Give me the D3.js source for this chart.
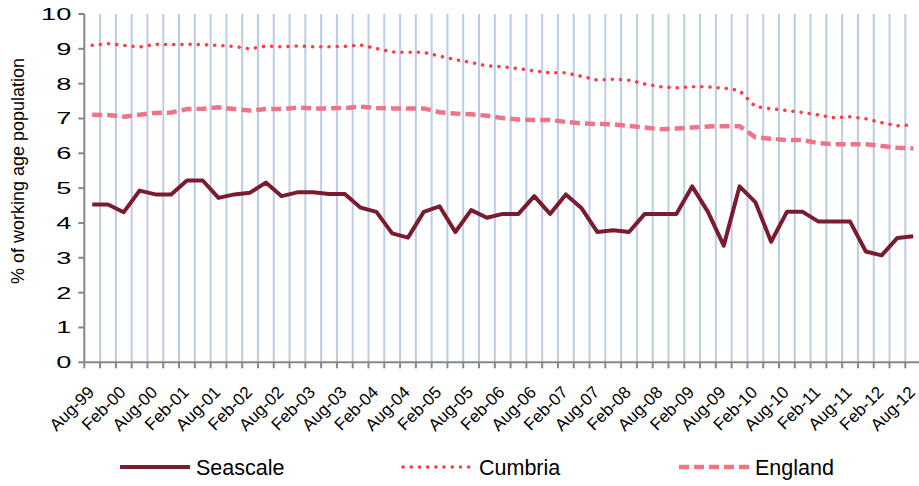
<!DOCTYPE html>
<html lang="en">
<head>
<meta charset="UTF-8">
<title>Out-of-work benefit claimants</title>
<script src="https://d3js.org/d3.v7.min.js"></script>
<style>
    body { margin: 0; background: #fff; }
    svg { display: block; font-family: "Liberation Sans", Arial, sans-serif; }
    .tick-label { font-size: 17px; fill: #000; }
    .x-label { font-size: 17px; fill: #000; }
    .axis-title { font-size: 18px; fill: #000; }
    .legend-label { font-size: 21.5px; fill: #000; }
</style>
</head>
<body>
<svg id="chart" width="919" height="486"></svg>
<script>
// quarterly categories, Aug-99 .. Aug-12
const categories = ["Aug-99","Nov-99","Feb-00","May-00","Aug-00","Nov-00","Feb-01","May-01","Aug-01","Nov-01",
    "Feb-02","May-02","Aug-02","Nov-02","Feb-03","May-03","Aug-03","Nov-03","Feb-04","May-04",
    "Aug-04","Nov-04","Feb-05","May-05","Aug-05","Nov-05","Feb-06","May-06","Aug-06","Nov-06",
    "Feb-07","May-07","Aug-07","Nov-07","Feb-08","May-08","Aug-08","Nov-08","Feb-09","May-09",
    "Aug-09","Nov-09","Feb-10","May-10","Aug-10","Nov-10","Feb-11","May-11","Aug-11","Nov-11",
    "Feb-12","May-12","Aug-12"];

const seascale = [4.53, 4.53, 4.31, 4.93, 4.82, 4.82, 5.22, 5.22, 4.72, 4.82,
    4.87, 5.16, 4.77, 4.88, 4.88, 4.83, 4.83, 4.44, 4.32, 3.70,
    3.58, 4.32, 4.48, 3.74, 4.37, 4.15, 4.26, 4.26, 4.77, 4.26,
    4.82, 4.42, 3.74, 3.79, 3.74, 4.26, 4.26, 4.26, 5.05, 4.32,
    3.35, 5.05, 4.60, 3.46, 4.32, 4.32, 4.04, 4.04, 4.04, 3.18,
    3.07, 3.57, 3.62];

const cumbria = [9.10, 9.15, 9.10, 9.05, 9.13, 9.12, 9.13, 9.12, 9.10, 9.07,
    9.00, 9.08, 9.06, 9.08, 9.06, 9.06, 9.07, 9.11, 9.01, 8.91,
    8.90, 8.90, 8.79, 8.69, 8.61, 8.51, 8.49, 8.43, 8.37, 8.31,
    8.31, 8.21, 8.10, 8.13, 8.10, 7.99, 7.91, 7.88, 7.91, 7.91,
    7.87, 7.80, 7.34, 7.28, 7.23, 7.17, 7.10, 7.02, 7.05, 6.99,
    6.88, 6.79, 6.82];

const england = [7.11, 7.10, 7.05, 7.11, 7.16, 7.17, 7.27, 7.28, 7.32, 7.27,
    7.23, 7.27, 7.27, 7.31, 7.29, 7.29, 7.30, 7.34, 7.30, 7.29,
    7.29, 7.29, 7.18, 7.14, 7.12, 7.08, 7.01, 6.97, 6.96, 6.96,
    6.90, 6.86, 6.84, 6.83, 6.79, 6.74, 6.69, 6.71, 6.74, 6.77,
    6.78, 6.78, 6.46, 6.42, 6.38, 6.38, 6.29, 6.26, 6.26, 6.26,
    6.21, 6.16, 6.14];

const yTicks = [0, 1, 2, 3, 4, 5, 6, 7, 8, 9, 10];
const seriesNames = ["Seascale", "Cumbria", "England"];

const svg = d3.select("#chart");
const plotLeft = 84.3, plotRight = 921.1, plotTop = 14, plotBottom = 362.3;

const x = d3.scaleBand().domain(categories).range([plotLeft, plotRight]).padding(0);
const y = d3.scaleLinear().domain([0, 10]).range([plotBottom, plotTop]);

const axisColor = "#878787";
const gridColor = "#BACDE6";

// category boundaries (for gridlines and tick marks)
const bounds = d3.range(categories.length + 1).map(i => plotLeft + i * x.step());

// vertical gridlines
svg.append("g").selectAll("line")
    .data(bounds.slice(1))
    .join("line")
    .attr("x1", d => d).attr("x2", d => d)
    .attr("y1", plotTop).attr("y2", plotBottom)
    .attr("stroke", gridColor)
    .attr("stroke-width", 2);

// y axis
const yAxis = svg.append("g");
yAxis.append("line")
    .attr("x1", plotLeft).attr("x2", plotLeft)
    .attr("y1", plotTop).attr("y2", plotBottom)
    .attr("stroke", axisColor).attr("stroke-width", 2);
yAxis.selectAll(".ytick")
    .data(yTicks)
    .join("line")
    .attr("class", "ytick")
    .attr("x1", plotLeft - 6).attr("x2", plotLeft)
    .attr("y1", d => y(d)).attr("y2", d => y(d))
    .attr("stroke", axisColor).attr("stroke-width", 2);
// the tick numbers in the original are drawn wide
yAxis.selectAll(".tick-label")
    .data(yTicks)
    .join("text")
    .attr("class", "tick-label")
    .attr("transform", d => `translate(${plotLeft - 13}, ${y(d)}) scale(1.6, 1)`)
    .attr("dy", "0.35em")
    .attr("text-anchor", "end")
    .text(d => d);

// y axis title
svg.append("text")
    .attr("class", "axis-title")
    .attr("transform", "translate(24, 171) rotate(-90)")
    .attr("text-anchor", "middle")
    .text("% of working age population");

// x axis
const xAxis = svg.append("g");
xAxis.append("line")
    .attr("x1", plotLeft).attr("x2", plotRight)
    .attr("y1", plotBottom).attr("y2", plotBottom)
    .attr("stroke", axisColor).attr("stroke-width", 2);
xAxis.selectAll(".xtick")
    .data(bounds)
    .join("line")
    .attr("class", "xtick")
    .attr("x1", d => d).attr("x2", d => d)
    .attr("y1", plotBottom).attr("y2", plotBottom + 6)
    .attr("stroke", axisColor).attr("stroke-width", 2);
xAxis.selectAll(".x-label")
    .data(categories.filter((d, i) => i % 2 === 0))
    .join("text")
    .attr("class", "x-label")
    .attr("text-anchor", "end")
    .attr("transform", d => `translate(${x(d) + x.bandwidth() / 2 + 3}, ${plotBottom + 31}) rotate(-45)`)
    .text(d => d);

// series lines
const cx = (d, i) => x(categories[i]) + x.bandwidth() / 2;
const line = d3.line().x(cx).y(d => y(d));

const styles = {
    Seascale: { color: "#7A1B30", width: 4, dash: null, cap: "butt" },
    Cumbria: { color: "#FF3A48", width: 3.5, dash: "0.1 8.1", cap: "round" },
    England: { color: "#EF7489", width: 4.5, dash: "10 5", cap: "butt" }
};
const seriesData = [seascale, cumbria, england];

seriesNames.forEach((name, k) => {
    const s = styles[name];
    svg.append("path")
        .datum(seriesData[k])
        .attr("fill", "none")
        .attr("stroke", s.color)
        .attr("stroke-width", s.width)
        .attr("stroke-linejoin", "round")
        .attr("stroke-linecap", s.cap)
        .attr("stroke-dasharray", s.dash)
        .attr("d", line);
});

// legend
const legendX = [120, 403, 679];
const legendY = 467;
const legend = svg.append("g");
seriesNames.forEach((name, k) => {
    const s = styles[name];
    legend.append("line")
        .attr("x1", legendX[k]).attr("x2", legendX[k] + 70)
        .attr("y1", legendY).attr("y2", legendY)
        .attr("stroke", s.color)
        .attr("stroke-width", s.width)
        .attr("stroke-linecap", s.cap)
        .attr("stroke-dasharray", s.dash);
    legend.append("text")
        .attr("class", "legend-label")
        .attr("x", legendX[k] + 76)
        .attr("y", legendY)
        .attr("dy", "0.35em")
        .text(name);
});
</script>
</body>
</html>
